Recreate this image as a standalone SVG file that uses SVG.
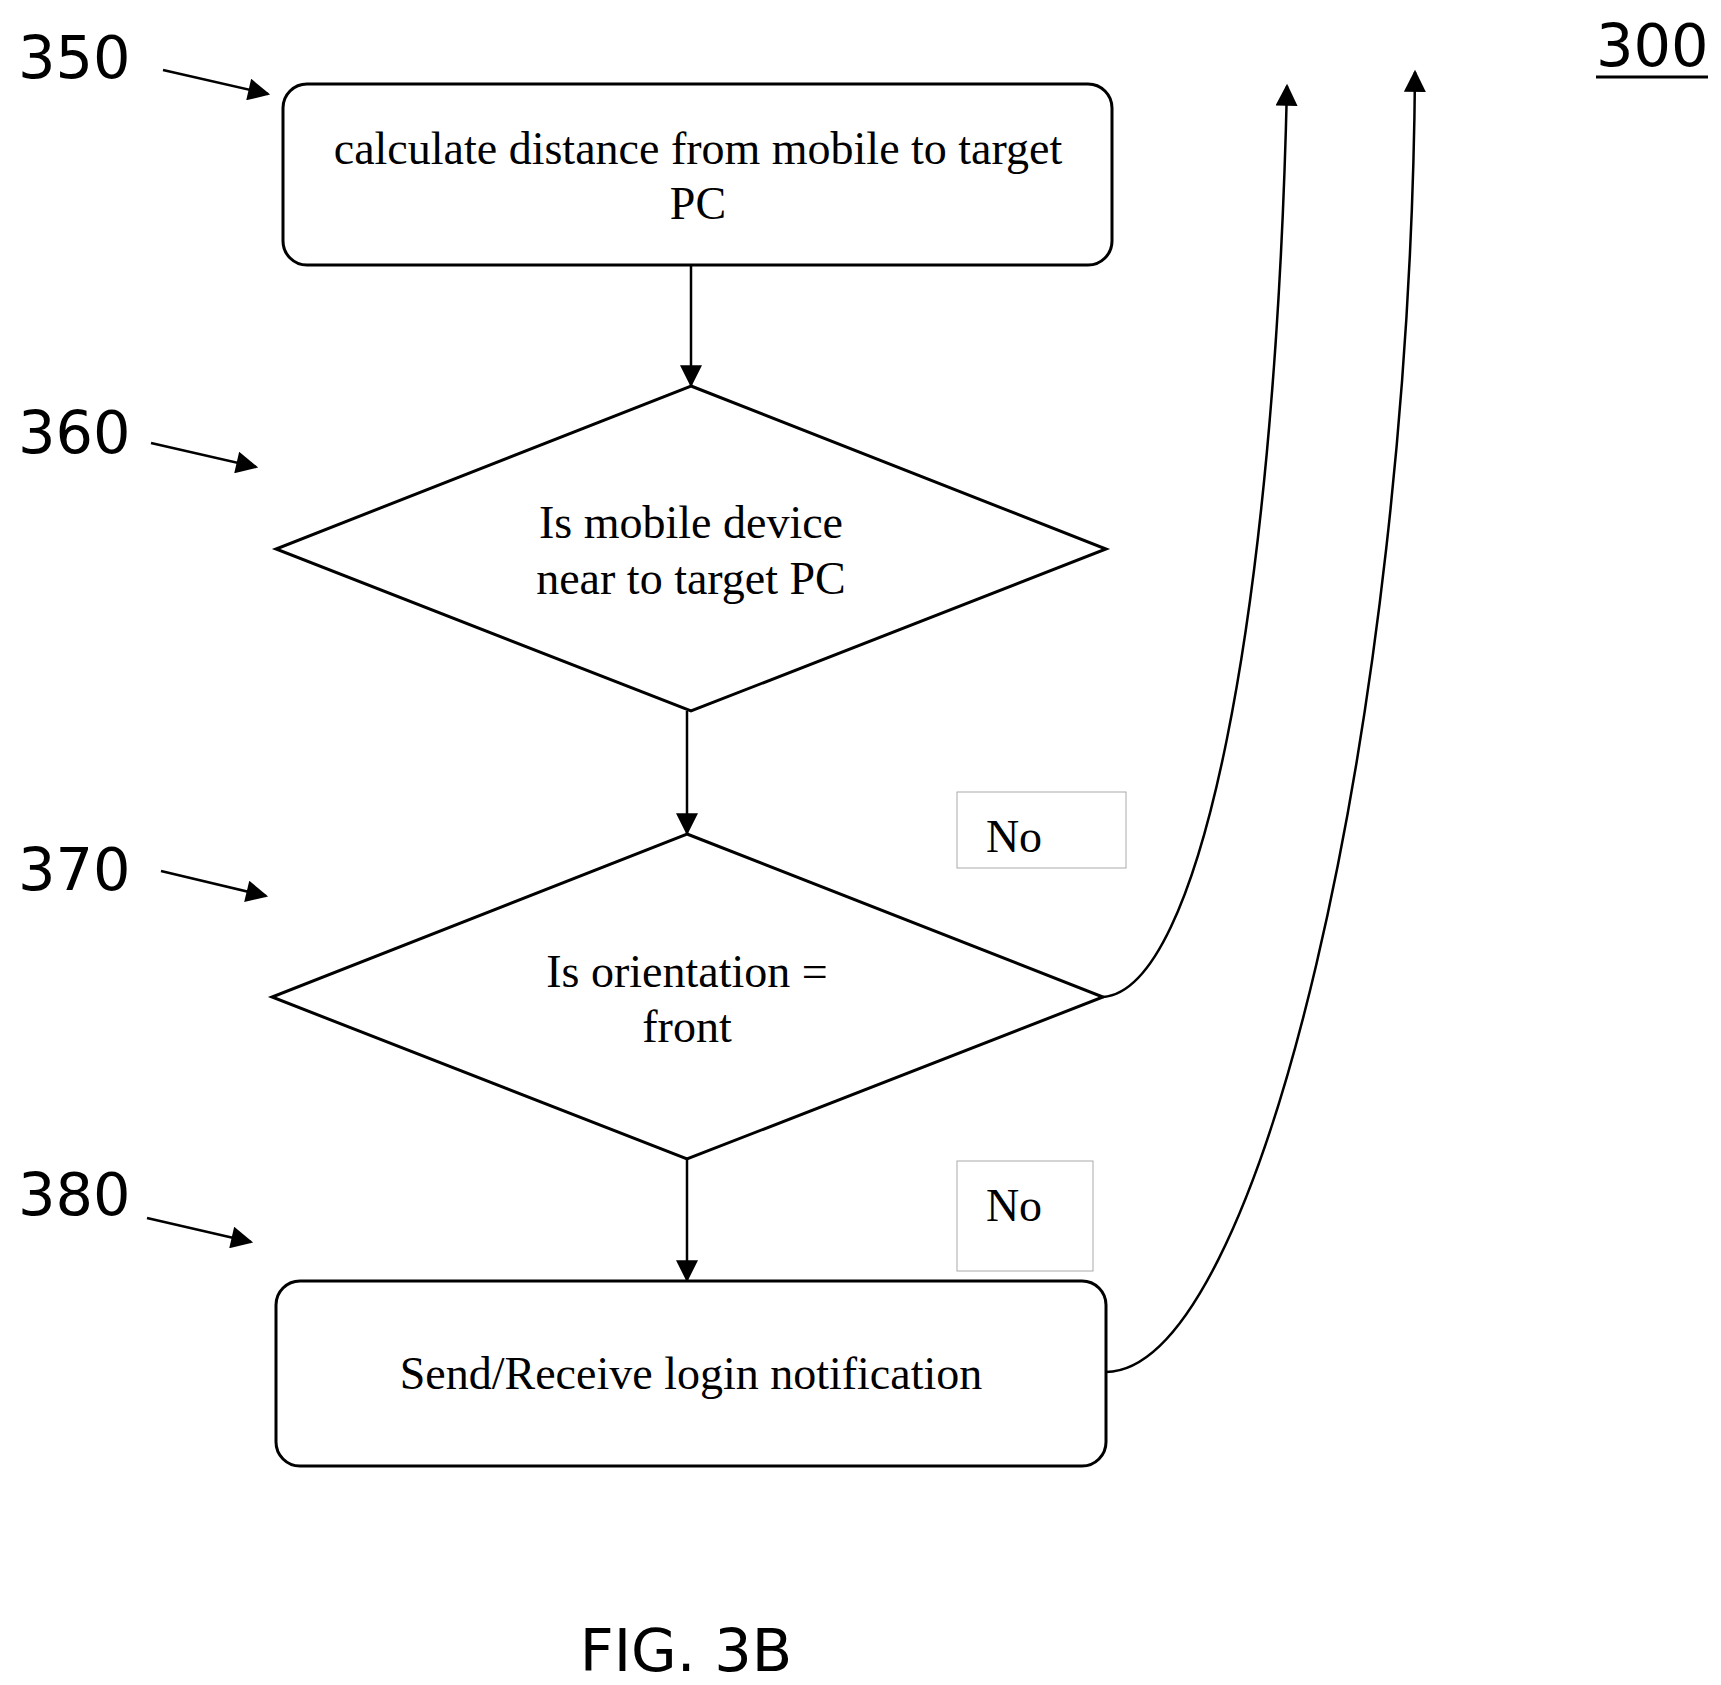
<svg xmlns="http://www.w3.org/2000/svg" width="1721" height="1685" viewBox="0 0 1721 1685">
<style>
.s{fill:#fff;stroke:#000;stroke-width:3}
.t{font-family:"Liberation Serif",serif;font-size:46px;text-anchor:middle}
.l{font-family:"DejaVu Sans","Noto Sans",sans-serif;font-size:59px}
.c{fill:none;stroke:#000;stroke-width:2.5}
.nb{fill:#fff;stroke:#aaa;stroke-width:1}
</style>
<defs>
<marker id="b" viewBox="0 0 10 10" refX="9" refY="5" markerWidth="26" markerHeight="22" orient="auto" markerUnits="userSpaceOnUse"><path d="M0,0 L10,5 L0,10 z"/></marker></defs>
<g id="labels">
<text class="l" x="18" y="78">350</text>
<text class="l" x="18" y="453">360</text>
<text class="l" x="18" y="890">370</text>
<text class="l" x="18" y="1215">380</text>
<text class="l" x="1596" y="66">300</text>
<line x1="1596" y1="77" x2="1708" y2="77" stroke="#000" stroke-width="3"/>
<text class="l" x="686" y="1671" text-anchor="middle" font-size="60">FIG. 3B</text>
</g>
<g id="n350"><rect class="s" x="283" y="84" width="829" height="181" rx="24"/>
<text class="t" x="698" y="164">calculate distance from mobile to target</text><text class="t" x="698" y="219">PC</text></g>
<g id="n360"><polygon class="s" points="691,386 1106,549 691,711 276,549"/>
<text class="t" x="691" y="538">Is mobile device</text><text class="t" x="691" y="594">near to target PC</text></g>
<g id="n370"><polygon class="s" points="687,834 1103,997 687,1159 272,997"/>
<text class="t" x="687" y="987">Is orientation =</text><text class="t" x="687" y="1042">front</text></g>
<g id="n380"><rect class="s" x="276" y="1281" width="830" height="185" rx="24"/>
<text class="t" x="691" y="1389">Send/Receive login notification</text></g>
<g id="no1"><rect class="nb" x="957" y="792" width="169" height="76"/><text class="t" x="1014" y="852">No</text></g>
<g id="no2"><rect class="nb" x="957" y="1161" width="136" height="110"/><text class="t" x="1014" y="1221">No</text></g>
<g id="connectors">
<line class="c" x1="691" y1="265" x2="691" y2="385" marker-end="url(#b)"/>
<line class="c" x1="687" y1="711" x2="687" y2="833" marker-end="url(#b)"/>
<line class="c" x1="687" y1="1159" x2="687" y2="1280" marker-end="url(#b)"/>
<path class="c" d="M1103 997 C1200 990 1275 620 1287 86" marker-end="url(#b)"/>
<path class="c" d="M1106 1372 C1260 1370 1410 720 1415 72" marker-end="url(#b)"/>
<line class="c" x1="163" y1="70" x2="268" y2="94" marker-end="url(#b)"/>
<line class="c" x1="151" y1="443" x2="256" y2="467" marker-end="url(#b)"/>
<line class="c" x1="161" y1="871" x2="266" y2="896" marker-end="url(#b)"/>
<line class="c" x1="147" y1="1218" x2="251" y2="1242" marker-end="url(#b)"/>
</g>
</svg>
